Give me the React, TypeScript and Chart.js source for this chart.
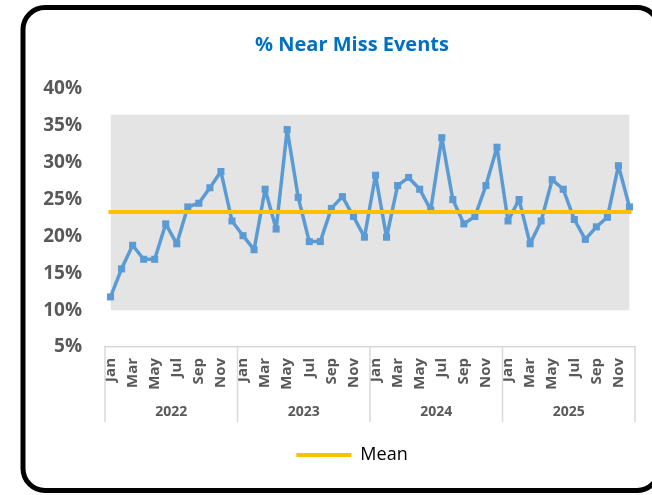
import React, { useEffect, useRef } from 'react';
import { Chart, registerables } from 'chart.js';

Chart.register(...registerables);

const years = ['2022', '2023', '2024', '2025'];
const months = ['Jan', 'Feb', 'Mar', 'Apr', 'May', 'Jun', 'Jul', 'Aug', 'Sep', 'Oct', 'Nov', 'Dec'];

const nearMiss2022 = [0.118, 0.156, 0.188, 0.169, 0.169, 0.217, 0.190, 0.240, 0.245, 0.266, 0.288, 0.221];
const nearMiss2023 = [0.201, 0.182, 0.264, 0.210, 0.345, 0.253, 0.193, 0.193, 0.238, 0.254, 0.227, 0.199];
const nearMiss2024 = [0.283, 0.199, 0.269, 0.280, 0.264, 0.236, 0.334, 0.250, 0.217, 0.227, 0.269, 0.321];
const nearMiss2025 = [0.221, 0.250, 0.190, 0.221, 0.277, 0.264, 0.223, 0.196, 0.213, 0.226, 0.296, 0.240];

const meanValue = 0.233;
const bandLow = 0.10;
const bandHigh = 0.365;

const yMin = 0.05;
const yMax = 0.40;
const yStep = 0.05;

const FONT = '"Open Sans", "Noto Sans", sans-serif';
const GRAY_TEXT = '#595959';
const AXIS_LINE = '#D9D9D9';

const framePlugin = {
  id: 'frame',
  beforeDraw(chart: any) {
    const ctx = chart.ctx;
    ctx.save();
    ctx.fillStyle = '#ffffff';
    ctx.fillRect(0, 0, chart.width, chart.height);
    ctx.beginPath();
    ctx.lineWidth = 5;
    ctx.strokeStyle = '#000000';
    ctx.roundRect(23, 7.5, 636, 483, 22);
    ctx.stroke();
    ctx.restore();
  },
};

const xDecorPlugin = {
  id: 'xDecor',
  afterDraw(chart: any) {
    const x = chart.scales.x;
    const ctx = chart.ctx;
    const half = (x.getPixelForValue(1) - x.getPixelForValue(0)) / 2;
    const top = x.top;
    const bottom = x.top + 75;
    ctx.save();
    ctx.strokeStyle = AXIS_LINE;
    ctx.lineWidth = 1.5;
    for (let k = 0; k <= years.length; k++) {
      const px =
        k < years.length
          ? x.getPixelForValue(k * 12) - half
          : x.getPixelForValue(years.length * 12 - 1) + half;
      ctx.beginPath();
      ctx.moveTo(px, top);
      ctx.lineTo(px, bottom);
      ctx.stroke();
    }
    ctx.fillStyle = GRAY_TEXT;
    ctx.font = 'bold 14px ' + FONT;
    ctx.textAlign = 'center';
    ctx.textBaseline = 'middle';
    years.forEach((yr, k) => {
      const a = x.getPixelForValue(k * 12) - half;
      const b = x.getPixelForValue(k * 12 + 11) + half;
      ctx.fillText(yr, (a + b) / 2, top + 65);
    });
    ctx.restore();
  },
};

export default function App() {
  const canvasRef = useRef<HTMLCanvasElement | null>(null);

  useEffect(() => {
    if (!canvasRef.current) return;
    const labels: string[] = [];
    years.forEach((y) => months.forEach((m) => labels.push(m + ' ' + y)));
    const values = [...nearMiss2022, ...nearMiss2023, ...nearMiss2024, ...nearMiss2025];

    const chart = new Chart(canvasRef.current, {
      type: 'line',
      data: {
        labels,
        datasets: [
          {
            label: 'Mean',
            data: labels.map(() => meanValue),
            borderColor: '#FFC000',
            backgroundColor: '#FFC000',
            borderWidth: 4,
            borderCapStyle: 'square',
            pointRadius: 0,
            fill: false,
            order: 0,
          },
          {
            label: '% Near Miss',
            data: values,
            borderColor: '#5B9BD5',
            backgroundColor: '#5B9BD5',
            borderWidth: 3.5,
            borderJoinStyle: 'round',
            borderCapStyle: 'round',
            pointStyle: 'rect',
            pointRadius: 5,
            pointBorderWidth: 0,
            pointBackgroundColor: '#5B9BD5',
            tension: 0,
            fill: false,
            order: 1,
          },
          {
            label: 'Band',
            data: labels.map(() => bandHigh),
            borderWidth: 0,
            borderColor: 'rgba(0,0,0,0)',
            backgroundColor: '#E4E4E4',
            pointRadius: 0,
            fill: { value: bandLow },
            order: 2,
          },
        ],
      },
      options: {
        responsive: false,
        animation: false,
        events: [],
        layout: { padding: { left: 30, right: -22, top: 0, bottom: 21 } },
        plugins: {
          title: {
            display: true,
            text: '% Near Miss Events',
            color: '#0070C0',
            font: { family: FONT, size: 20, weight: 'bold', lineHeight: 1.2 },
            padding: { top: 33, bottom: 32 },
          },
          legend: {
            display: true,
            position: 'bottom',
            labels: {
              filter: (item: any) => item.text === 'Mean',
              usePointStyle: true,
              pointStyle: 'line',
              pointStyleWidth: 55,
              color: '#000000',
              padding: 10,
              font: { family: FONT, size: 18 },
            },
          },
          tooltip: { enabled: false },
        },
        scales: {
          x: {
            type: 'category',
            offset: true,
            grid: { display: false, drawTicks: true, tickLength: 7 },
            border: { display: true, color: AXIS_LINE, width: 1.5 },
            ticks: {
              autoSkip: false,
              maxRotation: 90,
              minRotation: 90,
              padding: 4,
              color: GRAY_TEXT,
              font: { family: FONT, size: 15, weight: 'bold' },
              callback: (_v: any, i: number) => (i % 2 === 0 ? months[i % 12] : ''),
            },
            afterFit: (scale: any) => {
              scale.height = 89;
            },
          },
          y: {
            min: yMin,
            max: yMax,
            grid: { display: false, drawTicks: false },
            border: { display: false },
            ticks: {
              stepSize: yStep,
              padding: 23,
              color: GRAY_TEXT,
              font: { family: FONT, size: 19, weight: 'bold' },
              callback: (v: any) => Math.round(Number(v) * 100) + '%',
            },
            afterFit: (scale: any) => {
              scale.width = 75;
            },
          },
          ySpacer: {
            type: 'linear',
            position: 'right',
            display: true,
            grid: { display: false, drawTicks: false },
            border: { display: false },
            ticks: { display: false },
            afterFit: (scale: any) => {
              scale.width = 39;
            },
          },
        },
      },
      plugins: [framePlugin, xDecorPlugin],
    } as any);

    return () => chart.destroy();
  }, []);

  return (
    <div style={{ position: 'absolute', left: 0, top: 0, width: 652, height: 495 }}>
      <canvas ref={canvasRef} width={652} height={495} style={{ display: 'block' }} />
    </div>
  );
}
